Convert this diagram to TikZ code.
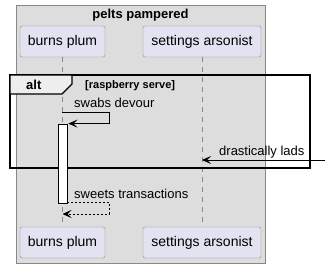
\documentclass[tikz,border=0pt]{standalone}
\usepackage{fontspec}
\setmainfont{Liberation Sans}
\usepackage{tikz}
\usetikzlibrary{positioning,arrows.meta}
\definecolor{groupgray}{HTML}{DDDDDD}
\definecolor{partfill}{HTML}{E2E2F0}
\definecolor{tabfill}{HTML}{EEEEEE}
\definecolor{linegray}{HTML}{888888}

\begin{document}
\begin{tikzpicture}[
    x=1pt, y=-1pt,
    every node/.style={font=\fontsize{13}{15}\selectfont, inner sep=0pt},
    part/.style={draw=linegray, fill=partfill, rounded corners=2pt, minimum height=31pt, font=\fontsize{14}{16}\selectfont},
    life/.style={draw=linegray, dash pattern=on 5pt off 5pt, line width=0.7pt},
    act/.style={draw, fill=white, minimum width=9pt, minimum height=79pt, line width=0.8pt},
    msg/.style={-{Stealth[length=9pt, width=8pt, inset=4pt]}, line width=0.8pt},
    ret/.style={msg, dash pattern=on 2pt off 2pt},
    lbl/.style={anchor=base west}
]
\useasboundingbox (0,0) rectangle (325,268);
\draw[draw=linegray, fill=groupgray] (16,5) rectangle (265,263);
\node[font=\bfseries\fontsize{13}{15}\selectfont, anchor=base] (grp) at (140.5,18) {pelts pampered};
\node[part, minimum width=85pt] (bp) at (62.5,41.5) {burns plum};
\node[part, minimum width=118pt] (sa) at (202,41.5) {settings arsonist};
\node[part, minimum width=85pt] (bpb) at (62.5,242.5) {burns plum};
\node[part, minimum width=118pt] (sab) at (202,242.5) {settings arsonist};
\draw[life] (bp) -- (bpb);
\draw[life] (sa) -- (sab);
\draw[line width=1.5pt] (10,75) rectangle (310,168);
\draw[fill=tabfill, line width=1.2pt] (10,75) -- (72,75) -- (72,84) -- (62,94) -- (10,94) -- cycle;
\node[lbl, font=\bfseries\fontsize{13}{15}\selectfont] (alt) at (26,89) {alt};
\node[lbl, font=\bfseries\fontsize{11}{13}\selectfont] (cond) at (85,88) {[raspberry serve]};
\node[act] (act) at (62.5,163.5) {};
\coordinate (s1) at (62.5,112);
\coordinate (ext) at (325,160);
\coordinate (r1) at (62.5,214);
\draw[msg] (s1) -- ++(46.5,0) |- ([xshift=1pt]act.north east);
\node[lbl] (swabs) at (74,107) {swabs devour};
\draw[msg] (ext) -- (ext -| sa);
\node[lbl] (lads) at (219,155.5) {drastically lads};
\draw[ret] ([yshift=1pt]act.south east) -- ++(42,0) |- (r1);
\node[lbl] (sweets) at (74,198) {sweets transactions};
\end{tikzpicture}
\end{document}
